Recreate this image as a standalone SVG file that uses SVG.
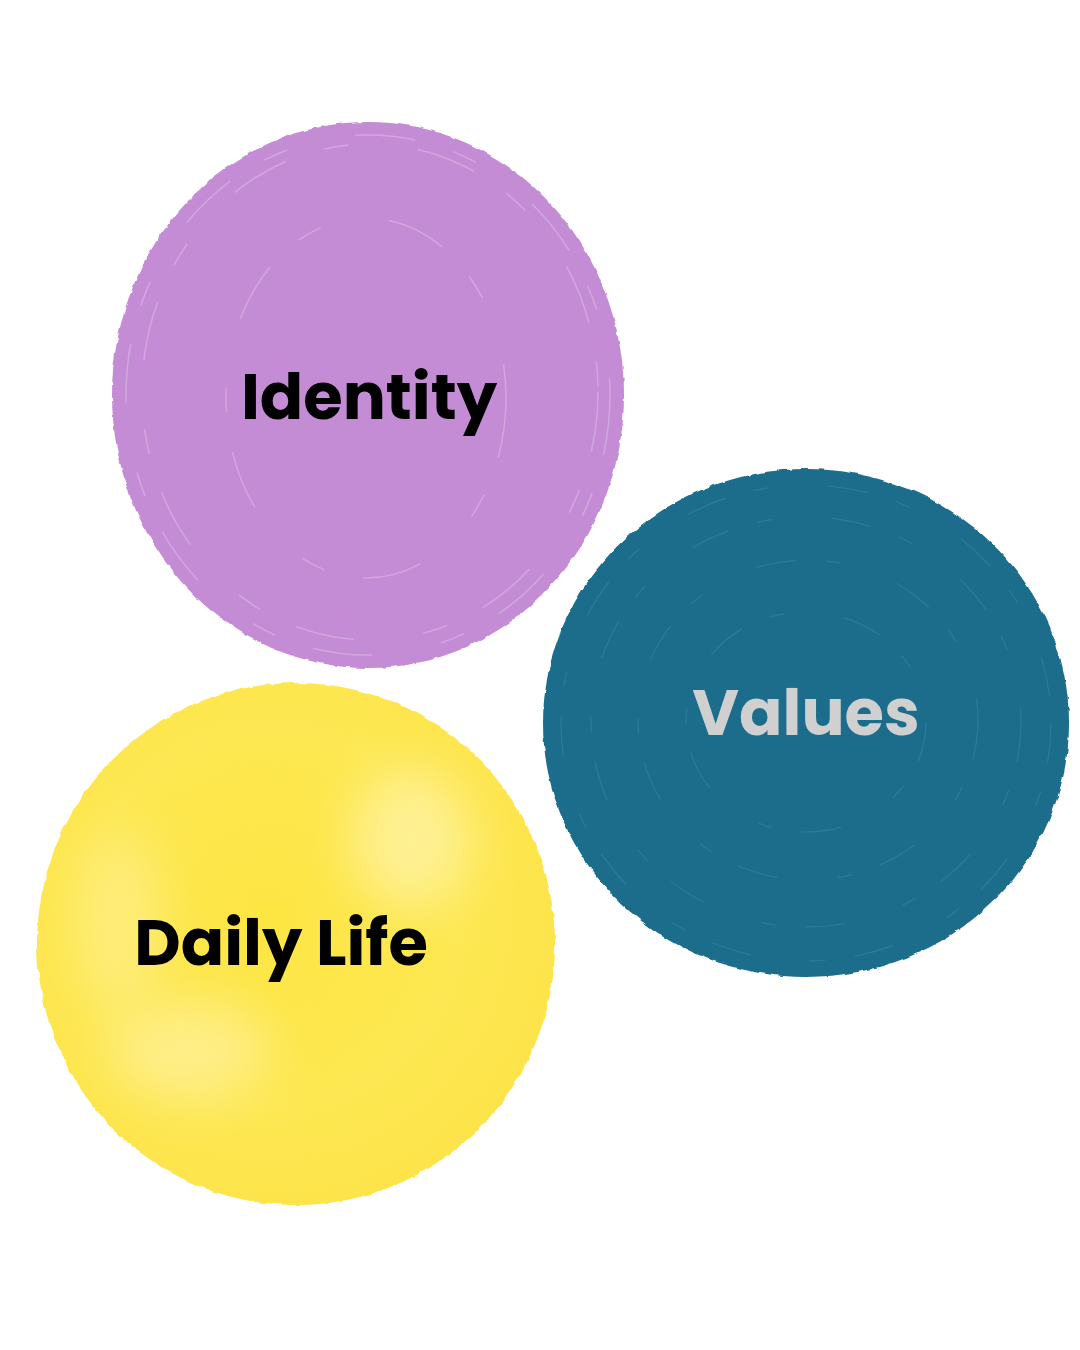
<svg xmlns="http://www.w3.org/2000/svg" width="1080" height="1350" viewBox="0 0 1080 1350">
  <style>
    .label { font-family: Poppins, "Inter", "Open Sans", "Liberation Sans", sans-serif; font-weight: 700; font-size: 64px; text-anchor: middle; }
    .dark { fill: #000000; }
    .light { fill: #d0d0d0; }
    .ringP { fill: none; stroke: #ecd9f2; stroke-opacity: 0.35; stroke-width: 1.5; stroke-dasharray: 60 40 25 70; }
    .ringT { fill: none; stroke: #5c9bb3; stroke-opacity: 0.3; stroke-width: 1.2; stroke-dasharray: 40 30 15 60; }
  </style>
  <defs>
    <filter id="rough" x="-5%" y="-5%" width="110%" height="110%">
      <feTurbulence type="fractalNoise" baseFrequency="0.09" numOctaves="2" seed="3" result="n"/>
      <feDisplacementMap in="SourceGraphic" in2="n" scale="4" xChannelSelector="R" yChannelSelector="G"/>
    </filter>
    <filter id="soft" x="-50%" y="-50%" width="200%" height="200%">
      <feGaussianBlur stdDeviation="25"/>
    </filter>
    <radialGradient id="yel" cx="0.45" cy="0.45" r="0.6">
      <stop offset="0" stop-color="#fde542"/>
      <stop offset="0.6" stop-color="#fde852"/>
      <stop offset="1" stop-color="#fde34a"/>
    </radialGradient>
  </defs>
  <rect width="1080" height="1350" fill="#ffffff"/>

  <g id="node-identity">
    <ellipse cx="368" cy="395" rx="256" ry="273" fill="#c58cd6" filter="url(#rough)"/>
    <ellipse class="ringP" cx="368" cy="395" rx="242" ry="260"/>
    <ellipse class="ringP" cx="370" cy="392" rx="228" ry="248"/>
    <ellipse class="ringP" cx="366" cy="398" rx="140" ry="180"/>
    <text class="label dark" x="369" y="419">Identity</text>
  </g>

  <g id="node-values">
    <ellipse cx="806" cy="723" rx="263" ry="254" fill="#1b6d8c" filter="url(#rough)"/>
    <ellipse class="ringT" cx="806" cy="723" rx="245" ry="238"/>
    <ellipse class="ringT" cx="806" cy="722" rx="215" ry="205"/>
    <ellipse class="ringT" cx="808" cy="720" rx="170" ry="160"/>
    <ellipse class="ringT" cx="806" cy="722" rx="120" ry="110"/>
    <text class="label light" x="806" y="735">Values</text>
  </g>

  <g id="node-daily-life">
    <ellipse cx="296" cy="944" rx="259" ry="261" fill="url(#yel)" filter="url(#rough)"/>
    <ellipse cx="410" cy="840" rx="60" ry="70" fill="#fff6c0" fill-opacity="0.6" filter="url(#soft)"/>
    <ellipse cx="190" cy="1050" rx="80" ry="50" fill="#fff6c0" fill-opacity="0.5" filter="url(#soft)"/>
    <ellipse cx="120" cy="920" rx="40" ry="90" fill="#fff6c0" fill-opacity="0.4" filter="url(#soft)"/>
    <text class="label dark" x="281" y="965">Daily Life</text>
  </g>

  <g id="connectors"/>
</svg>
